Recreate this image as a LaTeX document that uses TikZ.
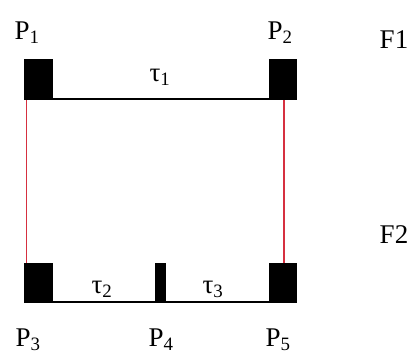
\documentclass[tikz,border=0pt]{standalone}
\usepackage{fontspec}
\setmainfont{Liberation Serif}
\definecolor{rosso}{RGB}{214,48,64}
\tikzset{
  blk/.style  = {rectangle, fill=black, inner sep=0, minimum height=41pt},
  base/.style = {line width=2pt},
  tie/.style  = {rosso, line width=1.2pt},
  et/.style   = {font=\fontsize{27}{31}\selectfont, inner sep=0}
}
\newcommand{\Pn}[1]{P\textsubscript{#1}}
\newcommand{\Tn}[1]{τ\textsubscript{#1}}

\begin{document}
\begin{tikzpicture}[x=1pt, y=-1pt]
  \useasboundingbox (0,0) rectangle (412,354);
  % upper row
  \node[blk, minimum width=29pt] (b1) at ( 38.5, 79.5){};
  \node[blk, minimum width=28pt] (b2) at (283.0, 79.5){};
  \draw[base] ([yshift=1pt]b1.south east) -- ([yshift=1pt]b2.south west);
  % lower row
  \node[blk, minimum width=29pt, minimum height=40pt] (b3) at ( 38.5,283){};
  \node[blk, minimum width=11pt, minimum height=40pt] (b4) at (160.5,283){};
  \node[blk, minimum width=28pt, minimum height=40pt] (b5) at (283.0,283){};
  \draw[base] ([yshift=1pt]b3.south east) -- ([yshift=1pt]b4.south west);
  \draw[base] ([yshift=1pt]b4.south east) -- ([yshift=1pt]b5.south west);
  % red links
  \draw[tie] ([xshift=3pt]b1.south west) -- ([xshift=3pt]b3.north west);
  \draw[tie] ([xshift=1pt]b2.south) -- ([xshift=1pt]b5.north);
  % labels
  \node[et] (p1) at ( 27,33) {\Pn{1}};
  \node[et] (p2) at (280,33) {\Pn{2}};
  \node[et] (f1) at (394,40) {F1};
  \node[et] (f2) at (394,235) {F2};
  \node[et] (t1) at (160,77) {\Tn{1}};
  \node[et] (t2) at (102,289) {\Tn{2}};
  \node[et] (t3) at (213,289) {\Tn{3}};
  \node[et] (p3) at ( 28,340) {\Pn{3}};
  \node[et] (p4) at (161,340) {\Pn{4}};
  \node[et] (p5) at (278,340) {\Pn{5}};
\end{tikzpicture}
\end{document}
